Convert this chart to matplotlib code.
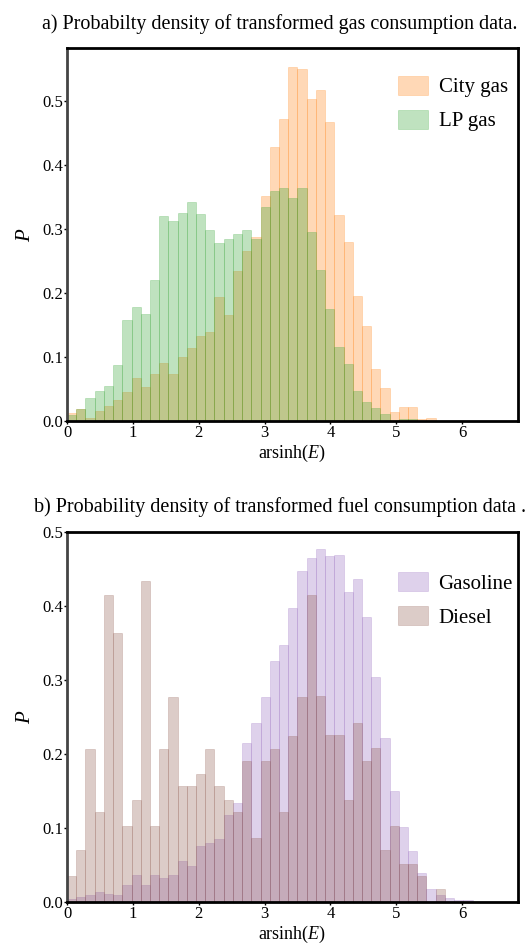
import numpy as np
import matplotlib
matplotlib.use("Agg")
import matplotlib.pyplot as plt

plt.rcParams['font.family'] = ['Liberation Serif', 'DejaVu Serif']
plt.rcParams['mathtext.fontset'] = 'custom'
plt.rcParams['mathtext.rm'] = 'Liberation Serif'
plt.rcParams['mathtext.it'] = 'Liberation Serif:italic'

# bin width of the histograms (arsinh units), bins start at 0
bin_w = 0.14

city_gas = [0.013, 0.019, 0.005, 0.016, 0.024, 0.033, 0.045, 0.067, 0.053, 0.074,
            0.091, 0.074, 0.100, 0.114, 0.133, 0.139, 0.194, 0.165, 0.234, 0.266,
            0.288, 0.352, 0.428, 0.472, 0.554, 0.550, 0.503, 0.517, 0.467, 0.322,
            0.280, 0.196, 0.149, 0.081, 0.052, 0.014, 0.022, 0.022, 0.003, 0.005]
lp_gas = [0.010, 0.019, 0.036, 0.047, 0.055, 0.088, 0.158, 0.179, 0.168, 0.221,
          0.321, 0.312, 0.326, 0.343, 0.323, 0.299, 0.279, 0.284, 0.292, 0.299,
          0.285, 0.334, 0.360, 0.364, 0.348, 0.364, 0.295, 0.236, 0.175, 0.116,
          0.089, 0.047, 0.029, 0.020, 0.011, 0.0, 0.003, 0.003, 0.0, 0.0]

gasoline = [0.004, 0.007, 0.009, 0.014, 0.011, 0.009, 0.023, 0.036, 0.023, 0.037,
            0.033, 0.037, 0.055, 0.049, 0.075, 0.080, 0.085, 0.118, 0.134, 0.214,
            0.242, 0.277, 0.325, 0.347, 0.397, 0.447, 0.464, 0.477, 0.467, 0.468,
            0.418, 0.436, 0.385, 0.304, 0.222, 0.150, 0.101, 0.069, 0.039, 0.017,
            0.010, 0.006, 0.003, 0.002]
diesel = [0.035, 0.070, 0.207, 0.121, 0.415, 0.363, 0.103, 0.138, 0.433, 0.103,
          0.207, 0.277, 0.156, 0.156, 0.173, 0.207, 0.156, 0.138, 0.121, 0.190,
          0.087, 0.190, 0.207, 0.121, 0.224, 0.277, 0.415, 0.278, 0.225, 0.225,
          0.138, 0.242, 0.191, 0.208, 0.070, 0.103, 0.051, 0.051, 0.035, 0.0,
          0.017, 0.0, 0.0, 0.0]

titles = ["a) Probabilty density of transformed gas consumption data.",
          "b) Probability density of transformed fuel consumption data ."]
x_ticks = [0, 1, 2, 3, 4, 5, 6]
y_ticks = [0.0, 0.1, 0.2, 0.3, 0.4, 0.5]


def draw_hist(ax, values, color, label):
    n = len(values)
    edges = np.arange(n + 1) * bin_w
    centers = edges[:-1] + bin_w / 2
    ax.hist(centers, bins=edges, weights=values, color=color, alpha=0.3,
            edgecolor=color, linewidth=0.5, label=label)


def style_axes(ax, title, ymax, title_x, leg_anchor):
    ax.set_xlim(0, 6.85)
    ax.set_ylim(0, ymax)
    ax.set_xticks(x_ticks)
    ax.set_yticks(y_ticks)
    ax.set_yticklabels(["%.1f" % v for v in y_ticks])
    ax.tick_params(labelsize=12, length=2, width=1, pad=1, colors='black')
    for s in ['top', 'right', 'bottom']:
        ax.spines[s].set_linewidth(2)
        ax.spines[s].set_color('black')
    ax.spines['left'].set_linewidth(2)
    ax.spines['left'].set_color('#444444')
    ax.set_xlabel("arsinh($E$)", fontsize=13, labelpad=1)
    ax.set_ylabel("$P$", fontsize=15, labelpad=5)
    ax.set_title(title, fontsize=14.5, pad=14, loc='right', x=title_x)
    ax.legend(loc='upper right', bbox_to_anchor=leg_anchor, frameon=False,
              fontsize=15, handlelength=1.45, handleheight=1.0,
              handletextpad=0.5, labelspacing=0.6, borderaxespad=0.6)


fig = plt.figure(figsize=(5.31, 9.43), dpi=100)
ax1 = fig.add_axes([0.1262, 0.5535, 0.8493, 0.3955])
ax2 = fig.add_axes([0.1262, 0.0435, 0.8493, 0.3927])

draw_hist(ax1, city_gas, 'tab:orange', 'City gas')
draw_hist(ax1, lp_gas, 'tab:green', 'LP gas')
style_axes(ax1, titles[0], 0.583, 1.0, (1.024, 0.981))

draw_hist(ax2, gasoline, 'tab:purple', 'Gasoline')
draw_hist(ax2, diesel, 'tab:brown', 'Diesel')
style_axes(ax2, titles[1], 0.5, 1.018, (1.035, 0.946))

fig.savefig("out.png", dpi=100)
